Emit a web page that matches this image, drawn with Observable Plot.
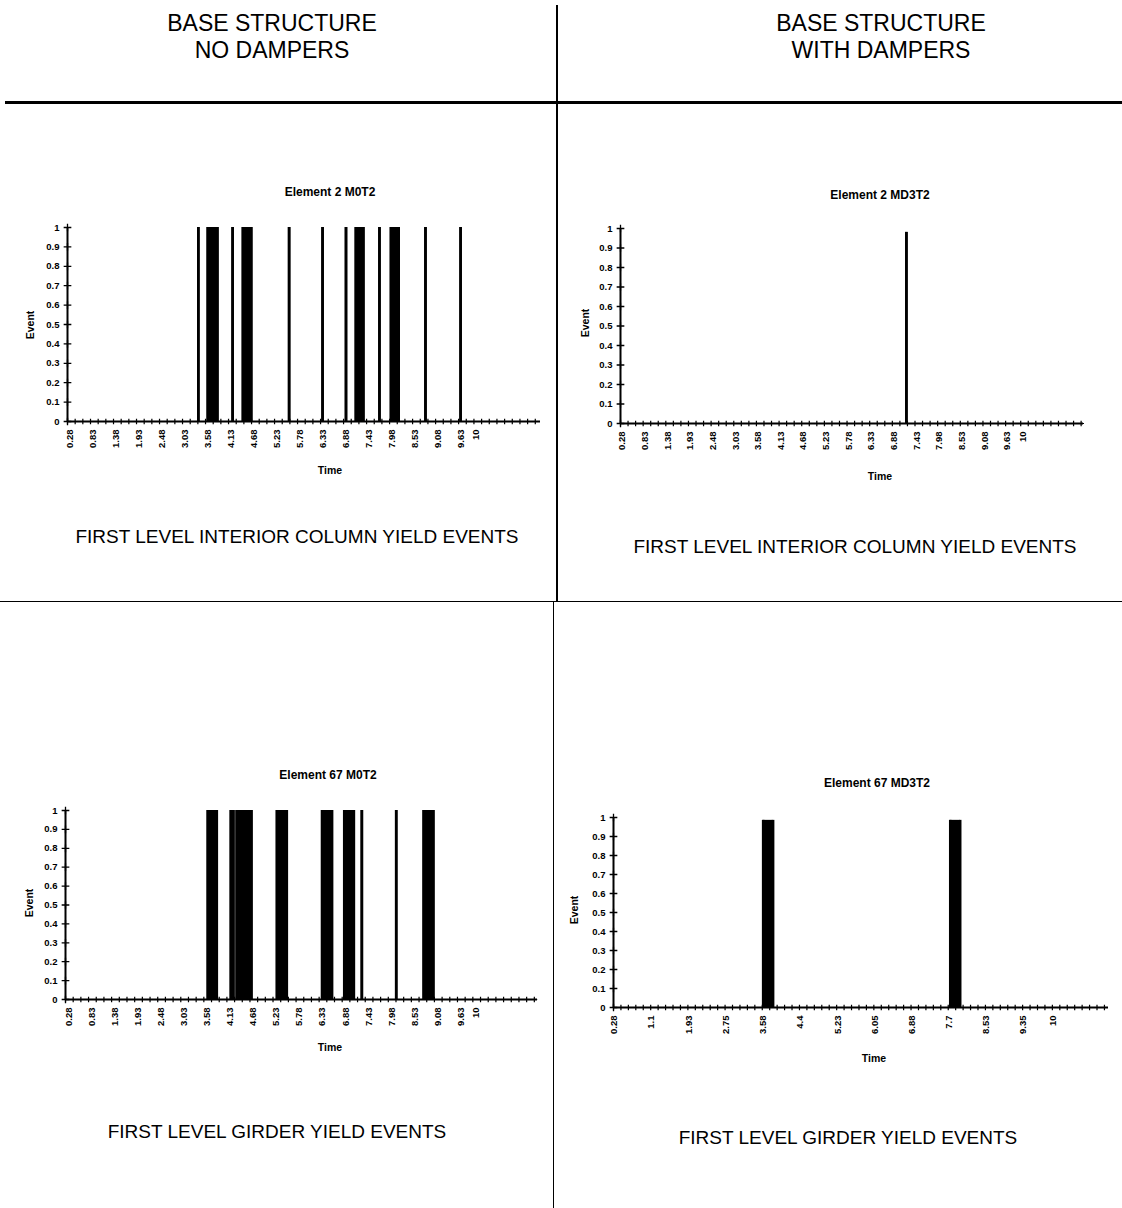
<!DOCTYPE html>
<html>
<head>
<meta charset="utf-8">
<script src="https://cdn.jsdelivr.net/npm/d3@7"></script>
<script src="https://cdn.jsdelivr.net/npm/@observablehq/plot@0.6"></script>
<style>
  html, body { margin: 0; padding: 0; background: #fff; }
  #page { position: relative; width: 1122px; height: 1208px; overflow: hidden;
          font-family: "Liberation Sans", Arial, sans-serif; color: #000; background: #fff; }
  .hdr { position: absolute; width: 420px; text-align: center; font-size: 23px; line-height: 27px; }
  .cap { position: absolute; text-align: center; font-size: 19px; line-height: 19px; white-space: nowrap; transform: translateX(-50%); }
  .ctext { position: absolute; white-space: nowrap; transform: translate(-50%, -50%); font-weight: bold; }
  .ttl { font-size: 12px; }
  .axl { font-size: 10.5px; }
  .rot { transform: translate(-50%, -50%) rotate(-90deg); }
  .line { position: absolute; background: #000; }
  .chart { position: absolute; }
  .chart svg { display: block; overflow: visible; }
</style>
</head>
<body>
<div id="page">
  <div class="hdr" style="left:62px; top:10px;">BASE STRUCTURE<br>NO DAMPERS</div>
  <div class="hdr" style="left:671px; top:10px;">BASE STRUCTURE<br>WITH DAMPERS</div>

  <div class="line" style="left:5px; top:101px; width:1117px; height:2.5px;"></div>
  <div class="line" style="left:556px; top:5px; width:1.6px; height:596px;"></div>
  <div class="line" style="left:552.5px; top:601px; width:1.6px; height:607px;"></div>
  <div class="line" style="left:0px; top:600.5px; width:1122px; height:1.4px;"></div>

  <div class="cap" style="left:297px; top:527px;">FIRST LEVEL INTERIOR COLUMN YIELD EVENTS</div>
  <div class="cap" style="left:855px; top:537px;">FIRST LEVEL INTERIOR COLUMN YIELD EVENTS</div>
  <div class="cap" style="left:277px; top:1122px;">FIRST LEVEL GIRDER YIELD EVENTS</div>
  <div class="cap" style="left:848px; top:1128px;">FIRST LEVEL GIRDER YIELD EVENTS</div>

  <div class="ctext ttl" style="left:330px; top:192px;">Element 2 M0T2</div>
  <div class="ctext ttl" style="left:880px; top:195px;">Element 2 MD3T2</div>
  <div class="ctext ttl" style="left:328px; top:775px;">Element 67 M0T2</div>
  <div class="ctext ttl" style="left:877px; top:783px;">Element 67 MD3T2</div>

  <div class="ctext axl" style="left:330px; top:470px;">Time</div>
  <div class="ctext axl" style="left:880px; top:476px;">Time</div>
  <div class="ctext axl" style="left:330px; top:1047px;">Time</div>
  <div class="ctext axl" style="left:874px; top:1058px;">Time</div>

  <div class="ctext axl rot" style="left:30px; top:325px;">Event</div>
  <div class="ctext axl rot" style="left:585px; top:323px;">Event</div>
  <div class="ctext axl rot" style="left:29px; top:903px;">Event</div>
  <div class="ctext axl rot" style="left:574px; top:910px;">Event</div>

  <div class="chart" id="tl" style="left:0px; top:180px;"></div>
  <div class="chart" id="tr" style="left:570px; top:180px;"></div>
  <div class="chart" id="bl" style="left:0px; top:760px;"></div>
  <div class="chart" id="br" style="left:560px; top:770px;"></div>
</div>
<script>
// ---------- DATA ----------
const yTickLabels = ["0","0.1","0.2","0.3","0.4","0.5","0.6","0.7","0.8","0.9","1"];

// Time axis labels (category labels shown by the original spreadsheet charts)
const timeLabels55 = ["0.28","0.83","1.38","1.93","2.48","3.03","3.58","4.13","4.68","5.23",
                      "5.78","6.33","6.88","7.43","7.98","8.53","9.08","9.63","10"];
const timeLabels825 = ["0.28","1.1","1.93","2.75","3.58","4.4","5.23","6.05","6.88","7.7","8.53","9.35","10"];

// Top-left: Element 2, base structure, no dampers — yield events (start/end time, value)
const tlEventStart = [3.36, 3.58, 4.18, 4.42, 5.53, 6.33, 6.89, 7.12, 7.69, 7.96, 8.79, 9.63];
const tlEventEnd   = [3.36, 3.82, 4.18, 4.63, 5.53, 6.33, 6.89, 7.31, 7.69, 8.15, 8.79, 9.63];
const tlEventValue = [1, 1, 1, 1, 1, 1, 1, 1, 1, 1, 1, 1];

// Top-right: Element 2, with dampers
const trEventStart = [7.18];
const trEventEnd   = [7.18];
const trEventValue = [0.98];

// Bottom-left: Element 67, no dampers
const blEventStart = [3.59, 4.14, 4.28, 5.24, 6.32, 6.85, 7.27, 8.09, 8.74];
const blEventEnd   = [3.81, 4.21, 4.64, 5.48, 6.56, 7.08, 7.27, 8.09, 8.98];
const blEventValue = [1, 1, 1, 1, 1, 1, 1, 1, 1];

// Bottom-right: Element 67, with dampers
const brEventStart = [3.58, 7.73];
const brEventEnd   = [3.80, 7.95];
const brEventValue = [0.985, 0.985];

// ---------- CHART ----------
function eventChart(o) {
  const tickVals = o.labels.map(Number);
  const labelOf = new Map(o.labels.map(l => [Number(l), l]));
  const yVals = yTickLabels.map(Number);
  const yLabelOf = new Map(yTickLabels.map(l => [Number(l), l]));
  const events = o.starts.map((s, i) => ({start: s, end: o.ends[i], value: o.values[i]}));
  const x0 = o.xDomain[0];
  const minor = d3.range(x0, o.xDomain[1], o.minorStep);
  return Plot.plot({
    width: o.width, height: o.height,
    marginLeft: o.m[0], marginTop: o.m[1], marginRight: o.m[2], marginBottom: o.m[3],
    style: {fontFamily: "'Liberation Sans', Arial, sans-serif", fontSize: "9.5px", fontWeight: "bold",
            background: "transparent", color: "#000"},
    x: {domain: o.xDomain, label: null},
    y: {domain: [0, 1], label: null},
    marks: [
      Plot.axisX({ticks: tickVals, tickFormat: d => labelOf.get(d), tickRotate: -90,
                  tickSize: 0, tickPadding: 8, label: null, fontSize: 9.5}),
      Plot.axisY({ticks: yVals, tickFormat: d => yLabelOf.get(d), tickSize: 0,
                  tickPadding: 8, label: null, fontSize: 9.5}),
      Plot.rect(events, {x1: "start", x2: "end", y1: 0, y2: "value", fill: "#000"}),
      Plot.ruleX(events, {x: "start", y1: 0, y2: "value", stroke: "#000", strokeWidth: 2.6}),
      Plot.ruleX(events, {x: "end", y1: 0, y2: "value", stroke: "#000", strokeWidth: 2.6}),
      Plot.ruleY([0], {stroke: "#000", strokeWidth: 2}),
      Plot.ruleX([x0], {stroke: "#000", strokeWidth: 2}),
      Plot.dot(yVals.map(v => ({x: x0, y: v})), {x: "x", y: "y", symbol: "plus", r: 2.6, stroke: "#000", strokeWidth: 1.3}),
      Plot.dot(minor.map(v => ({x: v, y: 0})), {x: "x", y: "y", symbol: "plus", r: 2, stroke: "#000", strokeWidth: 1.2})
    ]
  });
}

document.getElementById("tl").append(eventChart({
  labels: timeLabels55, starts: tlEventStart, ends: tlEventEnd, values: tlEventValue,
  xDomain: [0.232, 11.54], minorStep: 0.55 / 3,
  width: 560, height: 300, m: [67, 47, 20, 59]
}));
document.getElementById("tr").append(eventChart({
  labels: timeLabels55, starts: trEventStart, ends: trEventEnd, values: trEventValue,
  xDomain: [0.239, 11.48], minorStep: 0.55 / 3,
  width: 530, height: 300, m: [50, 48, 17, 57]
}));
document.getElementById("bl").append(eventChart({
  labels: timeLabels55, starts: blEventStart, ends: blEventEnd, values: blEventValue,
  xDomain: [0.201, 11.46], minorStep: 0.55 / 3,
  width: 560, height: 300, m: [65, 50, 23, 61]
}));
document.getElementById("br").append(eventChart({
  labels: timeLabels825, starts: brEventStart, ends: brEventEnd, values: brEventValue,
  xDomain: [0.26, 11.24], minorStep: 0.825 / 5,
  width: 562, height: 300, m: [53, 47, 14, 63]
}));
</script>
</body>
</html>
